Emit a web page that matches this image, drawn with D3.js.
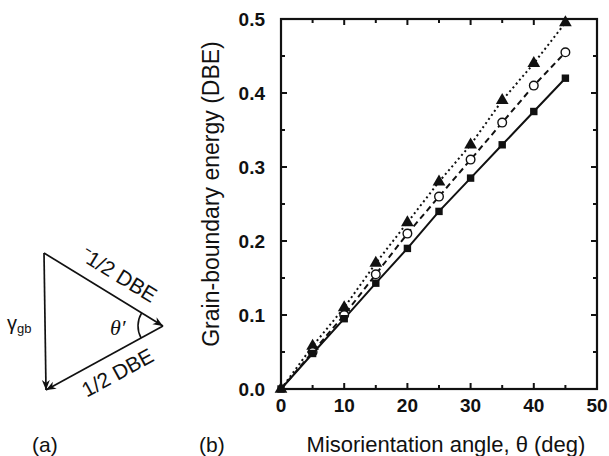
<!DOCTYPE html>
<meta charset="utf-8">
<style>
  body { margin: 0; background: #fff; font-family: "Liberation Sans", Arial, sans-serif; }
  text { fill: #111; }
</style>
<body>
<script src="https://cdn.jsdelivr.net/npm/d3@7"></script>
<script>
// data
var angles = [0, 5, 10, 15, 20, 25, 30, 35, 40, 45];
var squareVals = [0, 0.048, 0.095, 0.143, 0.19, 0.24, 0.285, 0.33, 0.375, 0.42];
var circleVals = [0, 0.05, 0.1, 0.155, 0.21, 0.26, 0.31, 0.36, 0.41, 0.455];
var triangleVals = [0, 0.058, 0.11, 0.17, 0.225, 0.28, 0.33, 0.39, 0.44, 0.495];
var xTicks = [0, 10, 20, 30, 40, 50];
var yTicks = [0, 0.1, 0.2, 0.3, 0.4, 0.5];

var width = 609, height = 456;
var svg = d3.select("body").append("svg")
  .attr("width", width)
  .attr("height", height);

// ---- panel (b): the chart ----
var pLeft = 281, pRight = 597, pTop = 19, pBottom = 389;
var x = d3.scaleLinear().domain([0, 50]).range([pLeft, pRight]);
var y = d3.scaleLinear().domain([0, 0.5]).range([pBottom, pTop]);

var g = svg.append("g");

// frame
g.append("rect")
  .attr("x", pLeft).attr("y", pTop)
  .attr("width", pRight - pLeft).attr("height", pBottom - pTop)
  .attr("fill", "none").attr("stroke", "#111").attr("stroke-width", 2.2);

// inward ticks on all four sides
var xMinor = d3.range(0, 51, 5), yMinor = d3.range(0, 11).map(function (i) { return i * 0.05; });
xMinor.forEach(function (v) {
  var len = (v % 10 === 0) ? 6 : 4;
  if (v === 0 || v === 50) return;
  g.append("line").attr("x1", x(v)).attr("x2", x(v)).attr("y1", pBottom).attr("y2", pBottom - len)
    .attr("stroke", "#111").attr("stroke-width", 2);
  g.append("line").attr("x1", x(v)).attr("x2", x(v)).attr("y1", pTop).attr("y2", pTop + len)
    .attr("stroke", "#111").attr("stroke-width", 2);
});
yMinor.forEach(function (v, i) {
  var len = (i % 2 === 0) ? 6 : 4;
  if (i === 0 || i === 10) return;
  g.append("line").attr("y1", y(v)).attr("y2", y(v)).attr("x1", pLeft).attr("x2", pLeft + len)
    .attr("stroke", "#111").attr("stroke-width", 2);
  g.append("line").attr("y1", y(v)).attr("y2", y(v)).attr("x1", pRight).attr("x2", pRight - len)
    .attr("stroke", "#111").attr("stroke-width", 2);
});

// tick labels
g.selectAll(".xl").data(xTicks).enter().append("text")
  .attr("x", function (d) { return x(d); })
  .attr("y", 412)
  .attr("text-anchor", "middle")
  .attr("font-size", 19).attr("font-weight", "bold")
  .text(function (d) { return d; });
g.selectAll(".yl").data(yTicks).enter().append("text")
  .attr("x", 265)
  .attr("y", function (d) { return y(d) + 7; })
  .attr("text-anchor", "end")
  .attr("font-size", 19).attr("font-weight", "bold")
  .text(function (d) { return d.toFixed(1); });

// axis titles
g.append("text")
  .attr("x", 446).attr("y", 452)
  .attr("text-anchor", "middle").attr("font-size", 22)
  .text("Misorientation angle, \u03b8 (deg)");
g.append("text")
  .attr("transform", "translate(219,194) rotate(-90)")
  .attr("text-anchor", "middle").attr("font-size", 23)
  .text("Grain-boundary energy (DBE)");

// series lines
var series = [
  { vals: squareVals, dash: null },
  { vals: circleVals, dash: "6,4" },
  { vals: triangleVals, dash: "2,3" }
];
var line = d3.line()
  .x(function (d) { return x(d[0]); })
  .y(function (d) { return y(d[1]); });
series.forEach(function (s) {
  g.append("path")
    .datum(angles.map(function (a, i) { return [a, s.vals[i]]; }))
    .attr("d", line)
    .attr("fill", "none").attr("stroke", "#111").attr("stroke-width", 2)
    .attr("stroke-dasharray", s.dash);
});

// markers
var sq = d3.symbol().type(d3.symbolSquare).size(55);
var tri = d3.symbol().type(d3.symbolTriangle).size(70);
angles.forEach(function (a, i) {
  g.append("path").attr("d", tri)
    .attr("transform", "translate(" + x(a) + "," + y(triangleVals[i]) + ")")
    .attr("fill", "#111");
});
angles.forEach(function (a, i) {
  if (i === 0) return;
  g.append("circle")
    .attr("cx", x(a)).attr("cy", y(circleVals[i])).attr("r", 4.3)
    .attr("fill", "#fff").attr("stroke", "#111").attr("stroke-width", 1.4);
});
angles.forEach(function (a, i) {
  g.append("path").attr("d", sq)
    .attr("transform", "translate(" + x(a) + "," + y(squareVals[i]) + ")")
    .attr("fill", "#111");
});

// ---- panel (a): vector triangle ----
var pa = svg.append("g");
var A = [44, 253], B = [163, 326], C = [46, 390];
svg.append("defs").append("marker")
  .attr("id", "arr").attr("viewBox", "0 0 10 10")
  .attr("refX", 10).attr("refY", 5)
  .attr("markerWidth", 10).attr("markerHeight", 10)
  .attr("markerUnits", "userSpaceOnUse")
  .attr("orient", "auto")
  .append("path").attr("d", "M0,1 L10,5 L0,9 L3,5 Z").attr("fill", "#111");

[[A, B], [B, C], [A, C]].forEach(function (p) {
  pa.append("line")
    .attr("x1", p[0][0]).attr("y1", p[0][1])
    .attr("x2", p[1][0]).attr("y2", p[1][1])
    .attr("stroke", "#111").attr("stroke-width", 1.7)
    .attr("marker-end", "url(#arr)");
});

var angAB = Math.atan2(B[1] - A[1], B[0] - A[0]) * 180 / Math.PI;
var angCB = Math.atan2(B[1] - C[1], B[0] - C[0]) * 180 / Math.PI;
pa.append("text")
  .attr("transform", "translate(115,281) rotate(" + angAB + ")")
  .attr("text-anchor", "middle").attr("font-size", 21)
  .text("\u207b1/2 DBE");
pa.append("text")
  .attr("transform", "translate(121,379) rotate(" + angCB + ")")
  .attr("text-anchor", "middle").attr("font-size", 21)
  .text("1/2 DBE");

// gamma_gb
var gl = pa.append("text").attr("x", 7).attr("y", 330).attr("font-size", 20);
gl.append("tspan").text("\u03b3");
gl.append("tspan").attr("font-size", 13).attr("dy", 3).text("gb");

// theta' and arc
var r = 25;
var a1 = Math.atan2(A[1] - B[1], A[0] - B[0]);
var a2 = Math.atan2(C[1] - B[1], C[0] - B[0]);
pa.append("path")
  .attr("d", "M" + (B[0] + r * Math.cos(a1)) + "," + (B[1] + r * Math.sin(a1)) +
    " A" + r + "," + r + " 0 0,0 " + (B[0] + r * Math.cos(a2)) + "," + (B[1] + r * Math.sin(a2)))
  .attr("fill", "none").attr("stroke", "#111").attr("stroke-width", 1.6);
pa.append("text")
  .attr("x", 110).attr("y", 335)
  .attr("font-family", "'Liberation Serif', serif").attr("font-style", "italic")
  .attr("font-size", 22).text("\u03b8\u2032");

// panel labels
svg.append("text").attr("x", 32).attr("y", 452).attr("font-size", 21).text("(a)");
svg.append("text").attr("x", 199).attr("y", 452).attr("font-size", 21).text("(b)");
</script>
</body>
